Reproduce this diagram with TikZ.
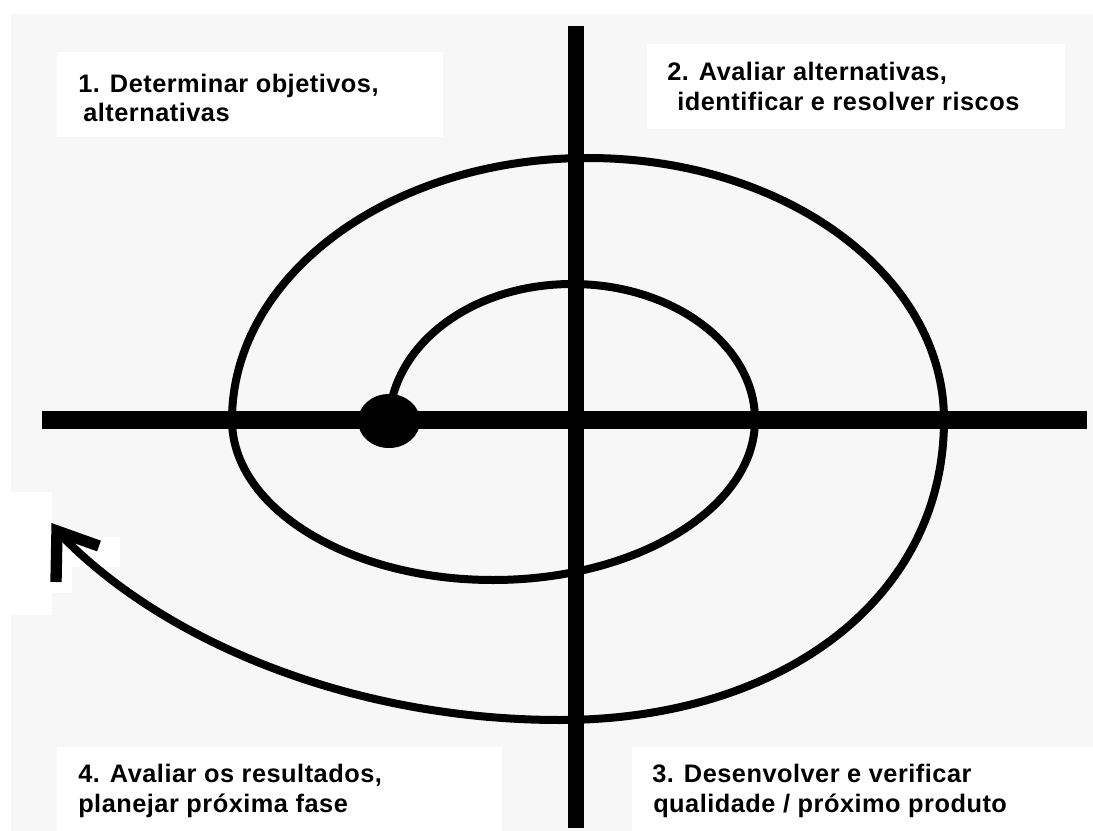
\documentclass[tikz,border=0pt]{standalone}
\usepackage{fontspec}
\setmainfont{Liberation Sans}[LetterSpace=2]
\usetikzlibrary{shapes.geometric}
\definecolor{bggray}{RGB}{247,247,247}
\begin{document}
\begin{tikzpicture}[x=0.75pt,y=-0.75pt,
  spiral/.style={line width=6pt, line cap=round, line join=round},
  axisline/.style={line width=#1, line cap=butt},
  headmark/.style={line width=8.5pt, line join=miter, line cap=butt},
  lbl/.style={anchor=base west, inner sep=0pt, font=\bfseries\fontsize{19}{23}\selectfont},
  dotnode/.style={fill=black, ellipse, inner sep=0pt, minimum width=46.5pt, minimum height=40.5pt}]
\useasboundingbox (0,0) rectangle (1093,831);
% background
\fill[white] (0,0) rectangle (1093,831);
\fill[bggray] (11,14) rectangle (1093,831);
% white patches
\fill[white] (57,52) rectangle (443,137);
\fill[white] (647,44) rectangle (1065,129);
\fill[white] (57,747) rectangle (502,831);
\fill[white] (632,747) rectangle (1093,831);
\fill[white] (0,492) rectangle (52,615);
\fill[white] (52,537) rectangle (120,567);
\fill[white] (52,567) rectangle (72,593);
% axes
\coordinate (hl) at (42,420);
\coordinate (hr) at (1087,420);
\coordinate (vt) at (576,26);
\coordinate (vb) at (576,828);
\draw[axisline=13.5pt] (hl) -- (hr);
\draw[axisline=12pt] (vt) -- (vb);
% centre dot
\node[dotnode] (dot) at (389,421) {};
% arrow head corner
\coordinate (ah) at (57,531);
\coordinate (ahd) at (56,582);
\coordinate (ahr) at (99,546);
% spiral
\draw[spiral] (dot.center) .. controls (392,345) and (471,284) .. (572,284)
  .. controls (673,284) and (755,345) .. (755,420)
  .. controls (755,508) and (637,580) .. (493,580)
  .. controls (349,580) and (232,508) .. (232,420)
  .. controls (232,275) and (391,158) .. (588,158)
  .. controls (785,158) and (944,275) .. (944,420)
  .. controls (944,600) and (780,720) .. (560,720)
  .. controls (350,720) and (160,640) .. (ah);
\draw[headmark] (ahd) -- (ah) -- (ahr);
% labels
\node[lbl] (t1a) at (78,93) {1. Determinar objetivos,};
\node[lbl] (t1b) at (83,122) {alternativas};
\node[lbl] (t2a) at (667,81) {2. Avaliar alternativas,};
\node[lbl] (t2b) at (677,111) {identificar e resolver riscos};
\node[lbl] (t4a) at (78,782) {4. Avaliar os resultados,};
\node[lbl] (t4b) at (78,812) {planejar próxima fase};
\node[lbl] (t3a) at (652,782) {3. Desenvolver e verificar};
\node[lbl] (t3b) at (653,812) {qualidade / próximo produto};
\end{tikzpicture}
\end{document}
